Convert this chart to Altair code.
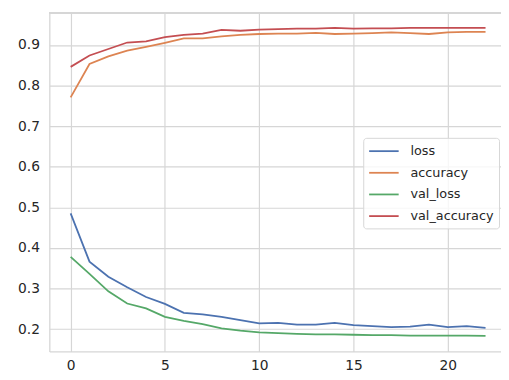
import altair as alt
import pandas as pd

epochs = list(range(23))
loss = [0.485, 0.366, 0.329, 0.303, 0.279, 0.262, 0.240, 0.236, 0.230, 0.222,
        0.214, 0.215, 0.211, 0.211, 0.215, 0.210, 0.207, 0.205, 0.206, 0.211,
        0.205, 0.207, 0.203]
accuracy = [0.771, 0.853, 0.872, 0.886, 0.895, 0.905, 0.916, 0.916, 0.921, 0.925,
            0.927, 0.928, 0.928, 0.930, 0.927, 0.928, 0.929, 0.931, 0.929, 0.927,
            0.931, 0.932, 0.932]
val_loss = [0.378, 0.336, 0.293, 0.263, 0.251, 0.230, 0.220, 0.212, 0.202, 0.196,
            0.192, 0.190, 0.188, 0.187, 0.187, 0.186, 0.185, 0.185, 0.184, 0.184,
            0.184, 0.184, 0.183]
val_accuracy = [0.846, 0.874, 0.890, 0.906, 0.909, 0.919, 0.925, 0.928, 0.937, 0.935,
                0.938, 0.939, 0.940, 0.940, 0.942, 0.940, 0.941, 0.941, 0.942, 0.942,
                0.942, 0.942, 0.942]

series_names = ["loss", "accuracy", "val_loss", "val_accuracy"]
series_colors = ["#4c72b0", "#dd8452", "#55a868", "#c44e52"]

rows = []
for name, vals in zip(series_names, [loss, accuracy, val_loss, val_accuracy]):
    for e, v in zip(epochs, vals):
        rows.append({"epoch": e, "value": v, "series": name})
df = pd.DataFrame(rows)

font = "DejaVu Sans"
grid_color = "#d6d6d6"

lines = alt.Chart(df).mark_line(strokeWidth=1.8).encode(
    x=alt.X("epoch:Q", scale=alt.Scale(domain=[-1.13, 22.82], nice=False, zero=False),
            axis=alt.Axis(values=[0, 5, 10, 15, 20], title=None, ticks=False,
                          labelPadding=7, domainColor=grid_color, domainWidth=1.3,
                          gridColor=grid_color, gridWidth=1.2)),
    y=alt.Y("value:Q", scale=alt.Scale(domain=[0.145, 0.979], nice=False, zero=False),
            axis=alt.Axis(values=[0.2, 0.3, 0.4, 0.5, 0.6, 0.7, 0.8, 0.9], format=".1f",
                          title=None, ticks=False, labelPadding=10,
                          domainColor=grid_color, domainWidth=1.3,
                          gridColor=grid_color, gridWidth=1.2)),
    color=alt.Color("series:N", sort=series_names,
                    scale=alt.Scale(domain=series_names, range=series_colors),
                    legend=alt.Legend(title=None, orient="none", legendX=319, legendY=127,
                                      symbolType="M-1,0H3", symbolSize=225,
                                      symbolStrokeWidth=1.8, labelOffset=26,
                                      rowPadding=6, padding=5,
                                      strokeColor="#d6d6d6", cornerRadius=3,
                                      fillColor="rgba(255,255,255,0.8)",
                                      labelFont=font, labelFontSize=13,
                                      labelColor="#262626")),
)

top_line = alt.Chart(df).mark_rule(color=grid_color, strokeWidth=1.3).encode(
    y=alt.value(0)
)

chart = alt.layer(lines, top_line).properties(
    width=459, height=344,
    autosize=alt.AutoSizeParams(type="none"),
    padding={"left": 42, "top": 2, "right": 0, "bottom": 20},
).configure_view(stroke=None).configure_axis(
    labelFont=font, labelFontSize=14, labelColor="#262626"
)

chart.save("out.html", embed_options={"renderer": "svg", "actions": False})
